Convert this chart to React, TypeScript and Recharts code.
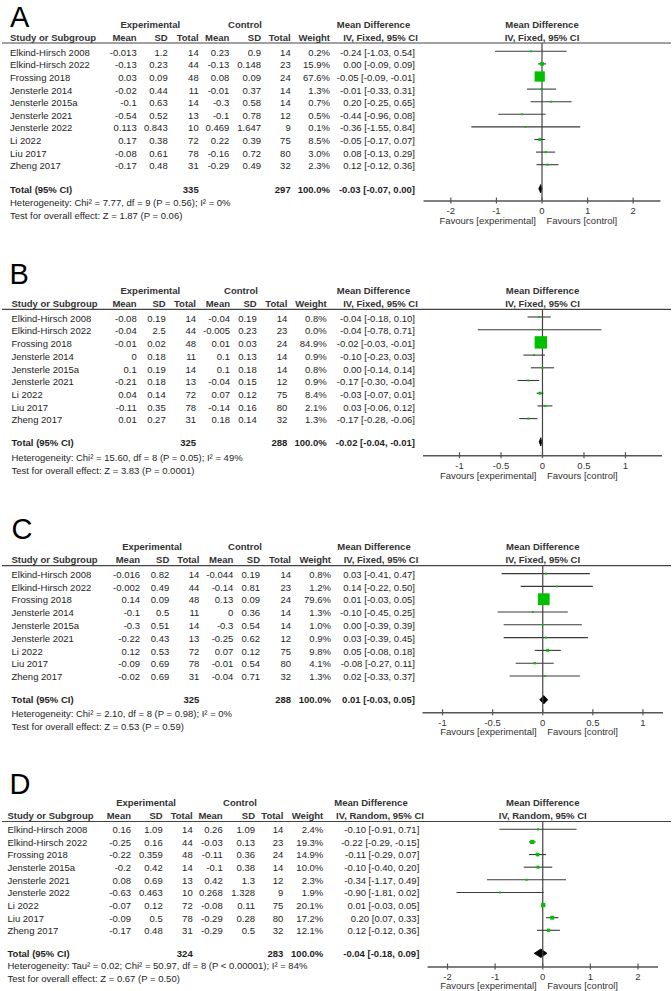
import React from 'react';
import { ComposedChart, Scatter, ErrorBar, Area, XAxis, YAxis, ReferenceLine } from 'recharts';

const FONT = '"Liberation Sans", Arial, Helvetica, sans-serif';

// ---------- Panel A ----------
const studiesA = ['Elkind-Hirsch 2008', 'Elkind-Hirsch 2022', 'Frossing 2018', 'Jensterle 2014', 'Jensterle 2015a', 'Jensterle 2021', 'Jensterle 2022', 'Li 2022', 'Liu 2017', 'Zheng 2017'];
const expMeanA = [-0.013, -0.13, 0.03, -0.02, -0.1, -0.54, 0.113, 0.17, -0.08, -0.17];
const expSdA = [1.2, 0.23, 0.09, 0.44, 0.63, 0.52, 0.843, 0.38, 0.61, 0.48];
const expNA = [14, 44, 48, 11, 14, 13, 10, 72, 78, 31];
const ctlMeanA = [0.23, -0.13, 0.08, -0.01, -0.3, -0.1, 0.469, 0.22, -0.16, -0.29];
const ctlSdA = [0.9, 0.148, 0.09, 0.37, 0.58, 0.78, 1.647, 0.39, 0.72, 0.49];
const ctlNA = [14, 23, 24, 14, 14, 12, 9, 75, 80, 32];
const weightA = [0.2, 15.9, 67.6, 1.3, 0.7, 0.5, 0.1, 8.5, 3.0, 2.3];
const mdA = [-0.24, 0.0, -0.05, -0.01, 0.2, -0.44, -0.36, -0.05, 0.08, 0.12];
const loA = [-1.03, -0.09, -0.09, -0.33, -0.25, -0.96, -1.55, -0.17, -0.13, -0.12];
const hiA = [0.54, 0.09, -0.01, 0.31, 0.65, 0.08, 0.84, 0.07, 0.29, 0.36];
const totalNA = [335, 297];
const totalEffA = [-0.03, -0.07, 0.0];
const hetA = 'Heterogeneity: Chi\u00b2 = 7.77, df = 9 (P = 0.56); I\u00b2 = 0%';
const testA = 'Test for overall effect: Z = 1.87 (P = 0.06)';
const ticksA = [-2, -1, 0, 1, 2];
const domainA = [-2.6, 2.6];

// ---------- Panel B ----------
const studiesB = ['Elkind-Hirsch 2008', 'Elkind-Hirsch 2022', 'Frossing 2018', 'Jensterle 2014', 'Jensterle 2015a', 'Jensterle 2021', 'Li 2022', 'Liu 2017', 'Zheng 2017'];
const expMeanB = [-0.08, -0.04, -0.01, 0, 0.1, -0.21, 0.04, -0.11, 0.01];
const expSdB = [0.19, 2.5, 0.02, 0.18, 0.19, 0.18, 0.14, 0.35, 0.27];
const expNB = [14, 44, 48, 11, 14, 13, 72, 78, 31];
const ctlMeanB = [-0.04, -0.005, 0.01, 0.1, 0.1, -0.04, 0.07, -0.14, 0.18];
const ctlSdB = [0.19, 0.23, 0.03, 0.13, 0.18, 0.15, 0.12, 0.16, 0.14];
const ctlNB = [14, 23, 24, 14, 14, 12, 75, 80, 32];
const weightB = [0.8, 0.0, 84.9, 0.9, 0.8, 0.9, 8.4, 2.1, 1.3];
const mdB = [-0.04, -0.04, -0.02, -0.1, 0.0, -0.17, -0.03, 0.03, -0.17];
const loB = [-0.18, -0.78, -0.03, -0.23, -0.14, -0.3, -0.07, -0.06, -0.28];
const hiB = [0.1, 0.71, -0.01, 0.03, 0.14, -0.04, 0.01, 0.12, -0.06];
const totalNB = [325, 288];
const totalEffB = [-0.02, -0.04, -0.01];
const hetB = 'Heterogeneity: Chi\u00b2 = 15.60, df = 8 (P = 0.05); I\u00b2 = 49%';
const testB = 'Test for overall effect: Z = 3.83 (P = 0.0001)';
const ticksB = [-1, -0.5, 0, 0.5, 1];
const domainB = [-1.44, 1.44];

// ---------- Panel C ----------
const studiesC = ['Elkind-Hirsch 2008', 'Elkind-Hirsch 2022', 'Frossing 2018', 'Jensterle 2014', 'Jensterle 2015a', 'Jensterle 2021', 'Li 2022', 'Liu 2017', 'Zheng 2017'];
const expMeanC = [-0.016, -0.002, 0.14, -0.1, -0.3, -0.22, 0.12, -0.09, -0.02];
const expSdC = [0.82, 0.49, 0.09, 0.5, 0.51, 0.43, 0.53, 0.69, 0.69];
const expNC = [14, 44, 48, 11, 14, 13, 72, 78, 31];
const ctlMeanC = [-0.044, -0.14, 0.13, 0, -0.3, -0.25, 0.07, -0.01, -0.04];
const ctlSdC = [0.19, 0.81, 0.09, 0.36, 0.54, 0.62, 0.12, 0.54, 0.71];
const ctlNC = [14, 23, 24, 14, 14, 12, 75, 80, 32];
const weightC = [0.8, 1.2, 79.6, 1.3, 1.0, 0.9, 9.8, 4.1, 1.3];
const mdC = [0.03, 0.14, 0.01, -0.1, 0.0, 0.03, 0.05, -0.08, 0.02];
const loC = [-0.41, -0.22, -0.03, -0.45, -0.39, -0.39, -0.08, -0.27, -0.33];
const hiC = [0.47, 0.5, 0.05, 0.25, 0.39, 0.45, 0.18, 0.11, 0.37];
const totalNC = [325, 288];
const totalEffC = [0.01, -0.03, 0.05];
const hetC = 'Heterogeneity: Chi\u00b2 = 2.10, df = 8 (P = 0.98); I\u00b2 = 0%';
const testC = 'Test for overall effect: Z = 0.53 (P = 0.59)';
const ticksC = [-1, -0.5, 0, 0.5, 1];
const domainC = [-1.2, 1.2];

// ---------- Panel D ----------
const studiesD = ['Elkind-Hirsch 2008', 'Elkind-Hirsch 2022', 'Frossing 2018', 'Jensterle 2015a', 'Jensterle 2021', 'Jensterle 2022', 'Li 2022', 'Liu 2017', 'Zheng 2017'];
const expMeanD = [0.16, -0.25, -0.22, -0.2, 0.08, -0.63, -0.07, -0.09, -0.17];
const expSdD = [1.09, 0.16, 0.359, 0.42, 0.69, 0.463, 0.12, 0.5, 0.48];
const expND = [14, 44, 48, 14, 13, 10, 72, 78, 31];
const ctlMeanD = [0.26, -0.03, -0.11, -0.1, 0.42, 0.268, -0.08, -0.29, -0.29];
const ctlSdD = [1.09, 0.13, 0.36, 0.38, 1.3, 1.328, 0.11, 0.28, 0.5];
const ctlND = [14, 23, 24, 14, 12, 9, 75, 80, 32];
const weightD = [2.4, 19.3, 14.9, 10.0, 2.3, 1.9, 20.1, 17.2, 12.1];
const mdD = [-0.1, -0.22, -0.11, -0.1, -0.34, -0.9, 0.01, 0.2, 0.12];
const loD = [-0.91, -0.29, -0.29, -0.4, -1.17, -1.81, -0.03, 0.07, -0.12];
const hiD = [0.71, -0.15, 0.07, 0.2, 0.49, 0.02, 0.05, 0.33, 0.36];
const totalND = [324, 283];
const totalEffD = [-0.04, -0.18, 0.09];
const hetD = 'Heterogeneity: Tau\u00b2 = 0.02; Chi\u00b2 = 50.97, df = 8 (P < 0.00001); I\u00b2 = 84%';
const testD = 'Test for overall effect: Z = 0.67 (P = 0.50)';
const ticksD = [-2, -1, 0, 1, 2];
const domainD = [-2.42, 2.42];

type Layout = {
  first: number; rowH: number; line: number; letterY: number; letterX: number; studyX: number;
  cols: number[]; mdRight: number; expC: number; ctlC: number; mdHdr: number[];
  totalY: number; hetY: number; testY: number; axisY: number; plotL: number; plotR: number;
};

type Panel = {
  letter: string; method: string; studies: string[]; expMean: number[]; expSd: number[]; expN: number[];
  ctlMean: number[]; ctlSd: number[]; ctlN: number[]; weight: number[]; md: number[]; lo: number[]; hi: number[];
  totalN: number[]; totalEff: number[]; het: string; test: string; ticks: number[]; domain: number[]; L: Layout;
};

const panels: Panel[] = [
  {
    letter: 'A', method: 'IV, Fixed, 95% CI', studies: studiesA, expMean: expMeanA, expSd: expSdA, expN: expNA,
    ctlMean: ctlMeanA, ctlSd: ctlSdA, ctlN: ctlNA, weight: weightA, md: mdA, lo: loA, hi: hiA,
    totalN: totalNA, totalEff: totalEffA, het: hetA, test: testA, ticks: ticksA, domain: domainA,
    L: { first: 52.3, rowH: 12.6, line: 43, letterY: 26.5, letterX: 10, studyX: 10,
      cols: [136.7, 167.7, 198.7, 229.3, 261, 290.7, 330], mdRight: 415, expC: 150.3, ctlC: 245, mdHdr: [373.5, 380.5],
      totalY: 189.3, hetY: 202.7, testY: 216, axisY: 201, plotL: 423.5, plotR: 660.5 },
  },
  {
    letter: 'B', method: 'IV, Fixed, 95% CI', studies: studiesB, expMean: expMeanB, expSd: expSdB, expN: expNB,
    ctlMean: ctlMeanB, ctlSd: ctlSdB, ctlN: ctlNB, weight: weightB, md: mdB, lo: loB, hi: hiB,
    totalN: totalNB, totalEff: totalEffB, het: hetB, test: testB, ticks: ticksB, domain: domainB,
    L: { first: 318.3, rowH: 12.7, line: 309.3, letterY: 283.5, letterX: 9.5, studyX: 11.5,
      cols: [136.7, 165.7, 196, 230, 256.7, 287.3, 326.7], mdRight: 415, expC: 150.3, ctlC: 241, mdHdr: [373.5, 380.5],
      totalY: 442.7, hetY: 457.5, testY: 470.5, axisY: 456, plotL: 423, plotR: 662 },
  },
  {
    letter: 'C', method: 'IV, Fixed, 95% CI', studies: studiesC, expMean: expMeanC, expSd: expSdC, expN: expNC,
    ctlMean: ctlMeanC, ctlSd: ctlSdC, ctlN: ctlNC, weight: weightC, md: mdC, lo: loC, hi: hiC,
    totalN: totalNC, totalEff: totalEffC, het: hetC, test: testC, ticks: ticksC, domain: domainC,
    L: { first: 574.3, rowH: 12.8, line: 565.7, letterY: 538.5, letterX: 11.5, studyX: 11.5,
      cols: [140, 169.3, 199.3, 233.3, 260, 291, 331], mdRight: 415, expC: 152, ctlC: 245, mdHdr: [374, 381],
      totalY: 700, hetY: 714, testY: 727, axisY: 712.5, plotL: 422.5, plotR: 663 },
  },
  {
    letter: 'D', method: 'IV, Random, 95% CI', studies: studiesD, expMean: expMeanD, expSd: expSdD, expN: expND,
    ctlMean: ctlMeanD, ctlSd: ctlSdD, ctlN: ctlND, weight: weightD, md: mdD, lo: loD, hi: hiD,
    totalN: totalND, totalEff: totalEffD, het: hetD, test: testD, ticks: ticksD, domain: domainD,
    L: { first: 829.8, rowH: 12.625, line: 821.5, letterY: 793.5, letterX: 9.5, studyX: 7.5,
      cols: [131, 162.7, 192.7, 222.7, 255, 283.3, 323.3], mdRight: 419.3, expC: 146, ctlC: 240, mdHdr: [371, 380],
      totalY: 953.3, hetY: 966, testY: 978.5, axisY: 966.5, plotL: 427.5, plotR: 658 },
  },
];

const FS = 9.5;
const DY = 3.4; // center -> baseline
const TXT = '#1e1e1e';
const HDR = '#333';
const GREEN = '#00C000';

const fmtEff = (m: number, l: number, h: number) => `${m.toFixed(2)} [${l.toFixed(2)}, ${h.toFixed(2)}]`;
const zeroOf = (p: Panel) => p.L.plotL + ((0 - p.domain[0]) / (p.domain[1] - p.domain[0])) * (p.L.plotR - p.L.plotL);

function PanelText({ p }: { p: Panel }) {
  const L = p.L;
  const z = zeroOf(p);
  const h1 = L.first - 27.3 + DY;
  const h2 = L.first - 14.6 + DY;
  const bold = { fontWeight: 700, fill: HDR } as const;
  const rows = p.studies.map((s, i) => {
    const y = L.first + i * L.rowH + DY;
    const vals = [String(p.expMean[i]), String(p.expSd[i]), String(p.expN[i]), String(p.ctlMean[i]), String(p.ctlSd[i]), String(p.ctlN[i]), `${p.weight[i].toFixed(1)}%`];
    return (
      <g key={s}>
        <text x={L.studyX} y={y}>{s}</text>
        {vals.map((v, j) => (
          <text key={j} x={L.cols[j]} y={y} textAnchor="end">{v}</text>
        ))}
        <text x={L.mdRight} y={y} textAnchor="end">{fmtEff(p.md[i], p.lo[i], p.hi[i])}</text>
      </g>
    );
  });
  const ty = L.totalY + DY;
  return (
    <g fontFamily={FONT} fontSize={FS} fill={TXT}>
      <text x={L.letterX} y={L.letterY} fontSize={29} fill="#000">{p.letter}</text>
      <g {...bold}>
        <text x={L.expC} y={h1} textAnchor="middle">Experimental</text>
        <text x={L.ctlC} y={h1} textAnchor="middle">Control</text>
        <text x={L.mdHdr[0]} y={h1} textAnchor="middle">Mean Difference</text>
        <text x={z} y={h1} textAnchor="middle">Mean Difference</text>
        <text x={L.studyX} y={h2}>Study or Subgroup</text>
        {['Mean', 'SD', 'Total', 'Mean', 'SD', 'Total', 'Weight'].map((t, j) => (
          <text key={j} x={L.cols[j]} y={h2} textAnchor="end">{t}</text>
        ))}
        <text x={L.mdHdr[1]} y={h2} textAnchor="middle">{p.method}</text>
        <text x={z} y={h2} textAnchor="middle">{p.method}</text>
      </g>
      <line x1={2} x2={671} y1={L.line} y2={L.line} stroke="#444" strokeWidth={1.2} />
      {rows}
      <g fontWeight={700} fill={TXT}>
        <text x={L.studyX} y={ty}>Total (95% CI)</text>
        <text x={L.cols[2]} y={ty} textAnchor="end">{p.totalN[0]}</text>
        <text x={L.cols[5]} y={ty} textAnchor="end">{p.totalN[1]}</text>
        <text x={L.cols[6]} y={ty} textAnchor="end">100.0%</text>
        <text x={L.mdRight} y={ty} textAnchor="end">{fmtEff(p.totalEff[0], p.totalEff[1], p.totalEff[2])}</text>
      </g>
      <text x={L.studyX} y={L.hetY + DY}>{p.het}</text>
      <text x={L.studyX} y={L.testY + DY}>{p.test}</text>
      <text x={z - 6} y={L.axisY + 19.5 + DY} textAnchor="end" fill="#333">Favours [experimental]</text>
      <text x={z + 4.5} y={L.axisY + 19.5 + DY} fill="#333">Favours [control]</text>
    </g>
  );
}

const Square = (props: any) => {
  const { cx, cy, payload } = props;
  if (cx == null || cy == null) return null;
  const s = 1.8 + 0.125 * payload.w;
  return <rect x={cx - s / 2} y={cy - s / 2} width={s} height={s} fill={GREEN} />;
};

const AxisTick = (props: any) => {
  const { x, y, payload } = props;
  return (
    <g>
      <line x1={x} x2={x} y1={y - 3.5} y2={y + 2.5} stroke="#555" strokeWidth={1.2} />
      <text x={x} y={y + 9.5 + DY} textAnchor="middle" fontFamily={FONT} fontSize={FS} fill="#333">{payload.value}</text>
    </g>
  );
};

function Forest({ p }: { p: Panel }) {
  const L = p.L;
  const top = L.line - 2;
  const height = L.axisY + 30 - top;
  const y0 = L.first - 1;
  const toRow = (py: number) => (py - y0) / L.rowH;
  const yDomain = [toRow(L.line), toRow(L.axisY)];
  const pts = p.studies.map((s, i) => ({
    name: s, md: p.md[i], row: i, err: [p.md[i] - p.lo[i], p.hi[i] - p.md[i]], w: p.weight[i],
  }));
  const tr = toRow(L.totalY - 0.5);
  const hh = 4.2 / L.rowH;
  const diamond = [
    { md: p.totalEff[1], band: [tr, tr] },
    { md: p.totalEff[0], band: [tr - hh, tr + hh] },
    { md: p.totalEff[2], band: [tr, tr] },
  ];
  return (
    <div style={{ position: 'absolute', left: 0, top, width: 672, height }}>
      <ComposedChart width={672} height={height} margin={{ top: 2, right: 672 - L.plotR, bottom: 0, left: L.plotL }}>
        <XAxis type="number" dataKey="md" domain={p.domain} ticks={p.ticks} allowDataOverflow interval={0}
          tickSize={0} tickMargin={0} tickLine={false} axisLine={{ stroke: '#555', strokeWidth: 1.4 }}
          tick={<AxisTick />} height={30} />
        <YAxis type="number" dataKey="row" domain={yDomain} reversed hide allowDataOverflow />
        <ReferenceLine x={0} stroke="#444" strokeWidth={1.2} ifOverflow="visible" />
        <Scatter data={pts} shape={<Square />} isAnimationActive={false}>
          <ErrorBar dataKey="err" direction="x" width={0} stroke="#3a3a3a" strokeWidth={1.1} isAnimationActive={false} />
        </Scatter>
        <Area data={diamond} dataKey="band" type="linear" stroke="#000" strokeWidth={0.8} fill="#000" fillOpacity={1}
          dot={false} activeDot={false} isAnimationActive={false} />
      </ComposedChart>
    </div>
  );
}

export default function App() {
  return (
    <div style={{ position: 'absolute', left: 0, top: 0, width: 672, height: 991, background: '#fff', overflow: 'hidden' }}>
      {panels.map((p) => (
        <Forest key={p.letter} p={p} />
      ))}
      <svg width={672} height={991} style={{ position: 'absolute', left: 0, top: 0, pointerEvents: 'none' }}>
        {panels.map((p) => (
          <PanelText key={p.letter} p={p} />
        ))}
      </svg>
    </div>
  );
}
